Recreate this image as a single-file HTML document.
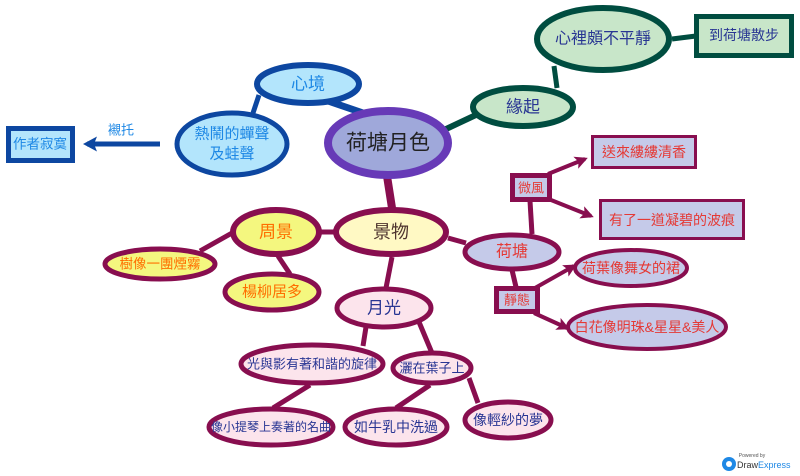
<!DOCTYPE html>
<html><head><meta charset="utf-8"><style>
html,body{margin:0;padding:0;background:#fff;width:800px;height:476px;overflow:hidden}
svg{display:block}
text{font-family:"Liberation Sans","Noto Sans CJK TC",sans-serif;text-anchor:middle;dominant-baseline:central}
</style></head><body>
<svg width="800" height="476" viewBox="0 0 800 476" xmlns="http://www.w3.org/2000/svg">
<defs>
<marker id="am" markerWidth="16" markerHeight="16" refX="10" refY="6.5" orient="auto" markerUnits="userSpaceOnUse"><path d="M0,0 L13,6.5 L0,13 L3,6.5 z" fill="#880e4f"/></marker>
<marker id="ab" markerWidth="18" markerHeight="18" refX="10" refY="7.5" orient="auto" markerUnits="userSpaceOnUse"><path d="M0,0 L14,7.5 L0,15 L3,7.5 z" fill="#0d47a1"/></marker>
</defs>
<g stroke-linecap="butt" fill="none">
<line x1="328" y1="101" x2="366" y2="114" stroke="#0d47a1" stroke-width="7"/>
<line x1="259" y1="95" x2="253" y2="113" stroke="#0d47a1" stroke-width="5"/>
<line x1="160" y1="144" x2="87" y2="144" stroke="#0d47a1" stroke-width="5" marker-end="url(#ab)"/>
<line x1="444" y1="130" x2="478" y2="114" stroke="#004d40" stroke-width="6"/>
<line x1="557" y1="88" x2="554" y2="66" stroke="#004d40" stroke-width="5"/>
<line x1="672" y1="39" x2="696" y2="36" stroke="#004d40" stroke-width="5"/>
<line x1="387" y1="176" x2="392" y2="208" stroke="#880e4f" stroke-width="8"/>
<line x1="320" y1="232" x2="335" y2="232" stroke="#880e4f" stroke-width="5"/>
<line x1="232" y1="233" x2="200" y2="251" stroke="#880e4f" stroke-width="5"/>
<line x1="278" y1="256" x2="290" y2="274" stroke="#880e4f" stroke-width="5"/>
<line x1="448" y1="238" x2="466" y2="243" stroke="#880e4f" stroke-width="5"/>
<line x1="392" y1="257" x2="386" y2="288" stroke="#880e4f" stroke-width="5"/>
<line x1="366" y1="327" x2="363" y2="346" stroke="#880e4f" stroke-width="5"/>
<line x1="419" y1="322" x2="432" y2="353" stroke="#880e4f" stroke-width="5"/>
<line x1="310" y1="385" x2="273" y2="408" stroke="#880e4f" stroke-width="5"/>
<line x1="430" y1="385" x2="396" y2="408" stroke="#880e4f" stroke-width="5"/>
<line x1="469" y1="378" x2="478" y2="403" stroke="#880e4f" stroke-width="5"/>
<line x1="532" y1="234" x2="530" y2="201" stroke="#880e4f" stroke-width="5"/>
<line x1="512" y1="270" x2="516" y2="287" stroke="#880e4f" stroke-width="5"/>
<line x1="548" y1="174" x2="585" y2="159" stroke="#880e4f" stroke-width="4" marker-end="url(#am)"/>
<line x1="551" y1="200" x2="591" y2="216" stroke="#880e4f" stroke-width="4" marker-end="url(#am)"/>
<line x1="535" y1="288" x2="574" y2="266" stroke="#880e4f" stroke-width="4" marker-end="url(#am)"/>
<line x1="534" y1="313" x2="567" y2="328" stroke="#880e4f" stroke-width="4" marker-end="url(#am)"/>
</g>
<ellipse cx="308" cy="84" rx="51" ry="19" fill="#b3e5fc" stroke="#0d47a1" stroke-width="6"/>
<text x="308" y="84" font-size="17" fill="#1e88e5">心境</text>
<ellipse cx="232" cy="144" rx="55" ry="31" fill="#b3e5fc" stroke="#0d47a1" stroke-width="5"/>
<text x="232" y="134" font-size="15" fill="#1e88e5">熱鬧的蟬聲</text>
<text x="232" y="154" font-size="15" fill="#1e88e5">及蛙聲</text>
<rect x="8.5" y="128.5" width="64" height="32" fill="#b3e5fc" stroke="#0d47a1" stroke-width="5"/>
<text x="40" y="144" font-size="13.5" fill="#1e88e5">作者寂寞</text>
<text x="121" y="130" font-size="13" fill="#1e88e5">襯托</text>
<ellipse cx="388" cy="143" rx="60" ry="32" fill="#9fa8da" stroke="#673ab7" stroke-width="8"/>
<text x="388" y="143" font-size="21" fill="#222">荷塘月色</text>
<ellipse cx="523" cy="107" rx="50" ry="19" fill="#c8e6c9" stroke="#004d40" stroke-width="6"/>
<text x="523" y="107" font-size="17" fill="#283593">緣起</text>
<ellipse cx="603" cy="39" rx="66" ry="31" fill="#c8e6c9" stroke="#004d40" stroke-width="6"/>
<text x="603" y="39" font-size="16" fill="#283593">心裡頗不平靜</text>
<rect x="696.5" y="16.5" width="95" height="39" fill="#c8e6c9" stroke="#004d40" stroke-width="5"/>
<text x="744" y="35" font-size="14" fill="#283593">到荷塘散步</text>
<ellipse cx="391" cy="232" rx="55" ry="22" fill="#fff9c4" stroke="#880e4f" stroke-width="6"/>
<text x="391" y="232" font-size="18" fill="#4e342e">景物</text>
<ellipse cx="276" cy="232" rx="43" ry="22" fill="#f4f77f" stroke="#880e4f" stroke-width="6"/>
<text x="276" y="232" font-size="17" fill="#ff6f00">周景</text>
<ellipse cx="160" cy="264" rx="55" ry="15" fill="#f4f77f" stroke="#880e4f" stroke-width="5"/>
<text x="160" y="264" font-size="13.5" fill="#ff6f00">樹像一團煙霧</text>
<ellipse cx="272" cy="292" rx="47" ry="18" fill="#f4f77f" stroke="#880e4f" stroke-width="5"/>
<text x="272" y="292" font-size="15" fill="#ff6f00">楊柳居多</text>
<ellipse cx="384" cy="308" rx="47" ry="19" fill="#fce4ec" stroke="#880e4f" stroke-width="5"/>
<text x="384" y="308" font-size="17" fill="#283593">月光</text>
<ellipse cx="312" cy="364" rx="71" ry="19" fill="#fce4ec" stroke="#880e4f" stroke-width="5"/>
<text x="312" y="364" font-size="13" fill="#283593">光與影有著和諧的旋律</text>
<ellipse cx="432" cy="368" rx="39" ry="15" fill="#fce4ec" stroke="#880e4f" stroke-width="5"/>
<text x="432" y="368" font-size="13" fill="#283593">灑在葉子上</text>
<ellipse cx="271" cy="427" rx="62" ry="18" fill="#fce4ec" stroke="#880e4f" stroke-width="5"/>
<text x="271" y="427" font-size="12" fill="#283593">像小提琴上奏著的名曲</text>
<ellipse cx="396" cy="427" rx="51" ry="18" fill="#fce4ec" stroke="#880e4f" stroke-width="5"/>
<text x="396" y="427" font-size="14" fill="#283593">如牛乳中洗過</text>
<ellipse cx="508" cy="420" rx="43" ry="18" fill="#fce4ec" stroke="#880e4f" stroke-width="5"/>
<text x="508" y="420" font-size="14" fill="#283593">像輕紗的夢</text>
<ellipse cx="512" cy="252" rx="47" ry="17" fill="#c5cae9" stroke="#880e4f" stroke-width="5"/>
<text x="512" y="252" font-size="16" fill="#e53935">荷塘</text>
<rect x="512.5" y="175.5" width="37" height="24" fill="#c5cae9" stroke="#880e4f" stroke-width="5"/>
<text x="531" y="188" font-size="13" fill="#e53935">微風</text>
<rect x="592.5" y="136.5" width="103" height="31" fill="#c5cae9" stroke="#880e4f" stroke-width="3"/>
<text x="644" y="152" font-size="14" fill="#e53935">送來縷縷清香</text>
<rect x="600.5" y="200.5" width="143" height="38" fill="#c5cae9" stroke="#880e4f" stroke-width="3"/>
<text x="672" y="220" font-size="14" fill="#e53935">有了一道凝碧的波痕</text>
<rect x="496.5" y="288.5" width="41" height="23" fill="#c5cae9" stroke="#880e4f" stroke-width="5"/>
<text x="517" y="300" font-size="13" fill="#e53935">靜態</text>
<ellipse cx="631" cy="268" rx="56" ry="18" fill="#c5cae9" stroke="#880e4f" stroke-width="4"/>
<text x="631" y="268" font-size="14" fill="#e53935">荷葉像舞女的裙</text>
<ellipse cx="647" cy="327" rx="79" ry="22" fill="#c5cae9" stroke="#880e4f" stroke-width="4"/>
<text x="647" y="327" font-size="14" fill="#e53935">白花像明珠&amp;星星&amp;美人</text>
<circle cx="729" cy="464" r="7" fill="#1e88e5"/>
<circle cx="729" cy="464" r="3" fill="#fff"/>
<text x="752" y="456" font-size="5" fill="#555">Powered by</text>
<text x="737" y="465" font-size="9" fill="#333" style="text-anchor:start">Draw<tspan fill="#1e88e5">Express</tspan></text>
</svg>
</body></html>
